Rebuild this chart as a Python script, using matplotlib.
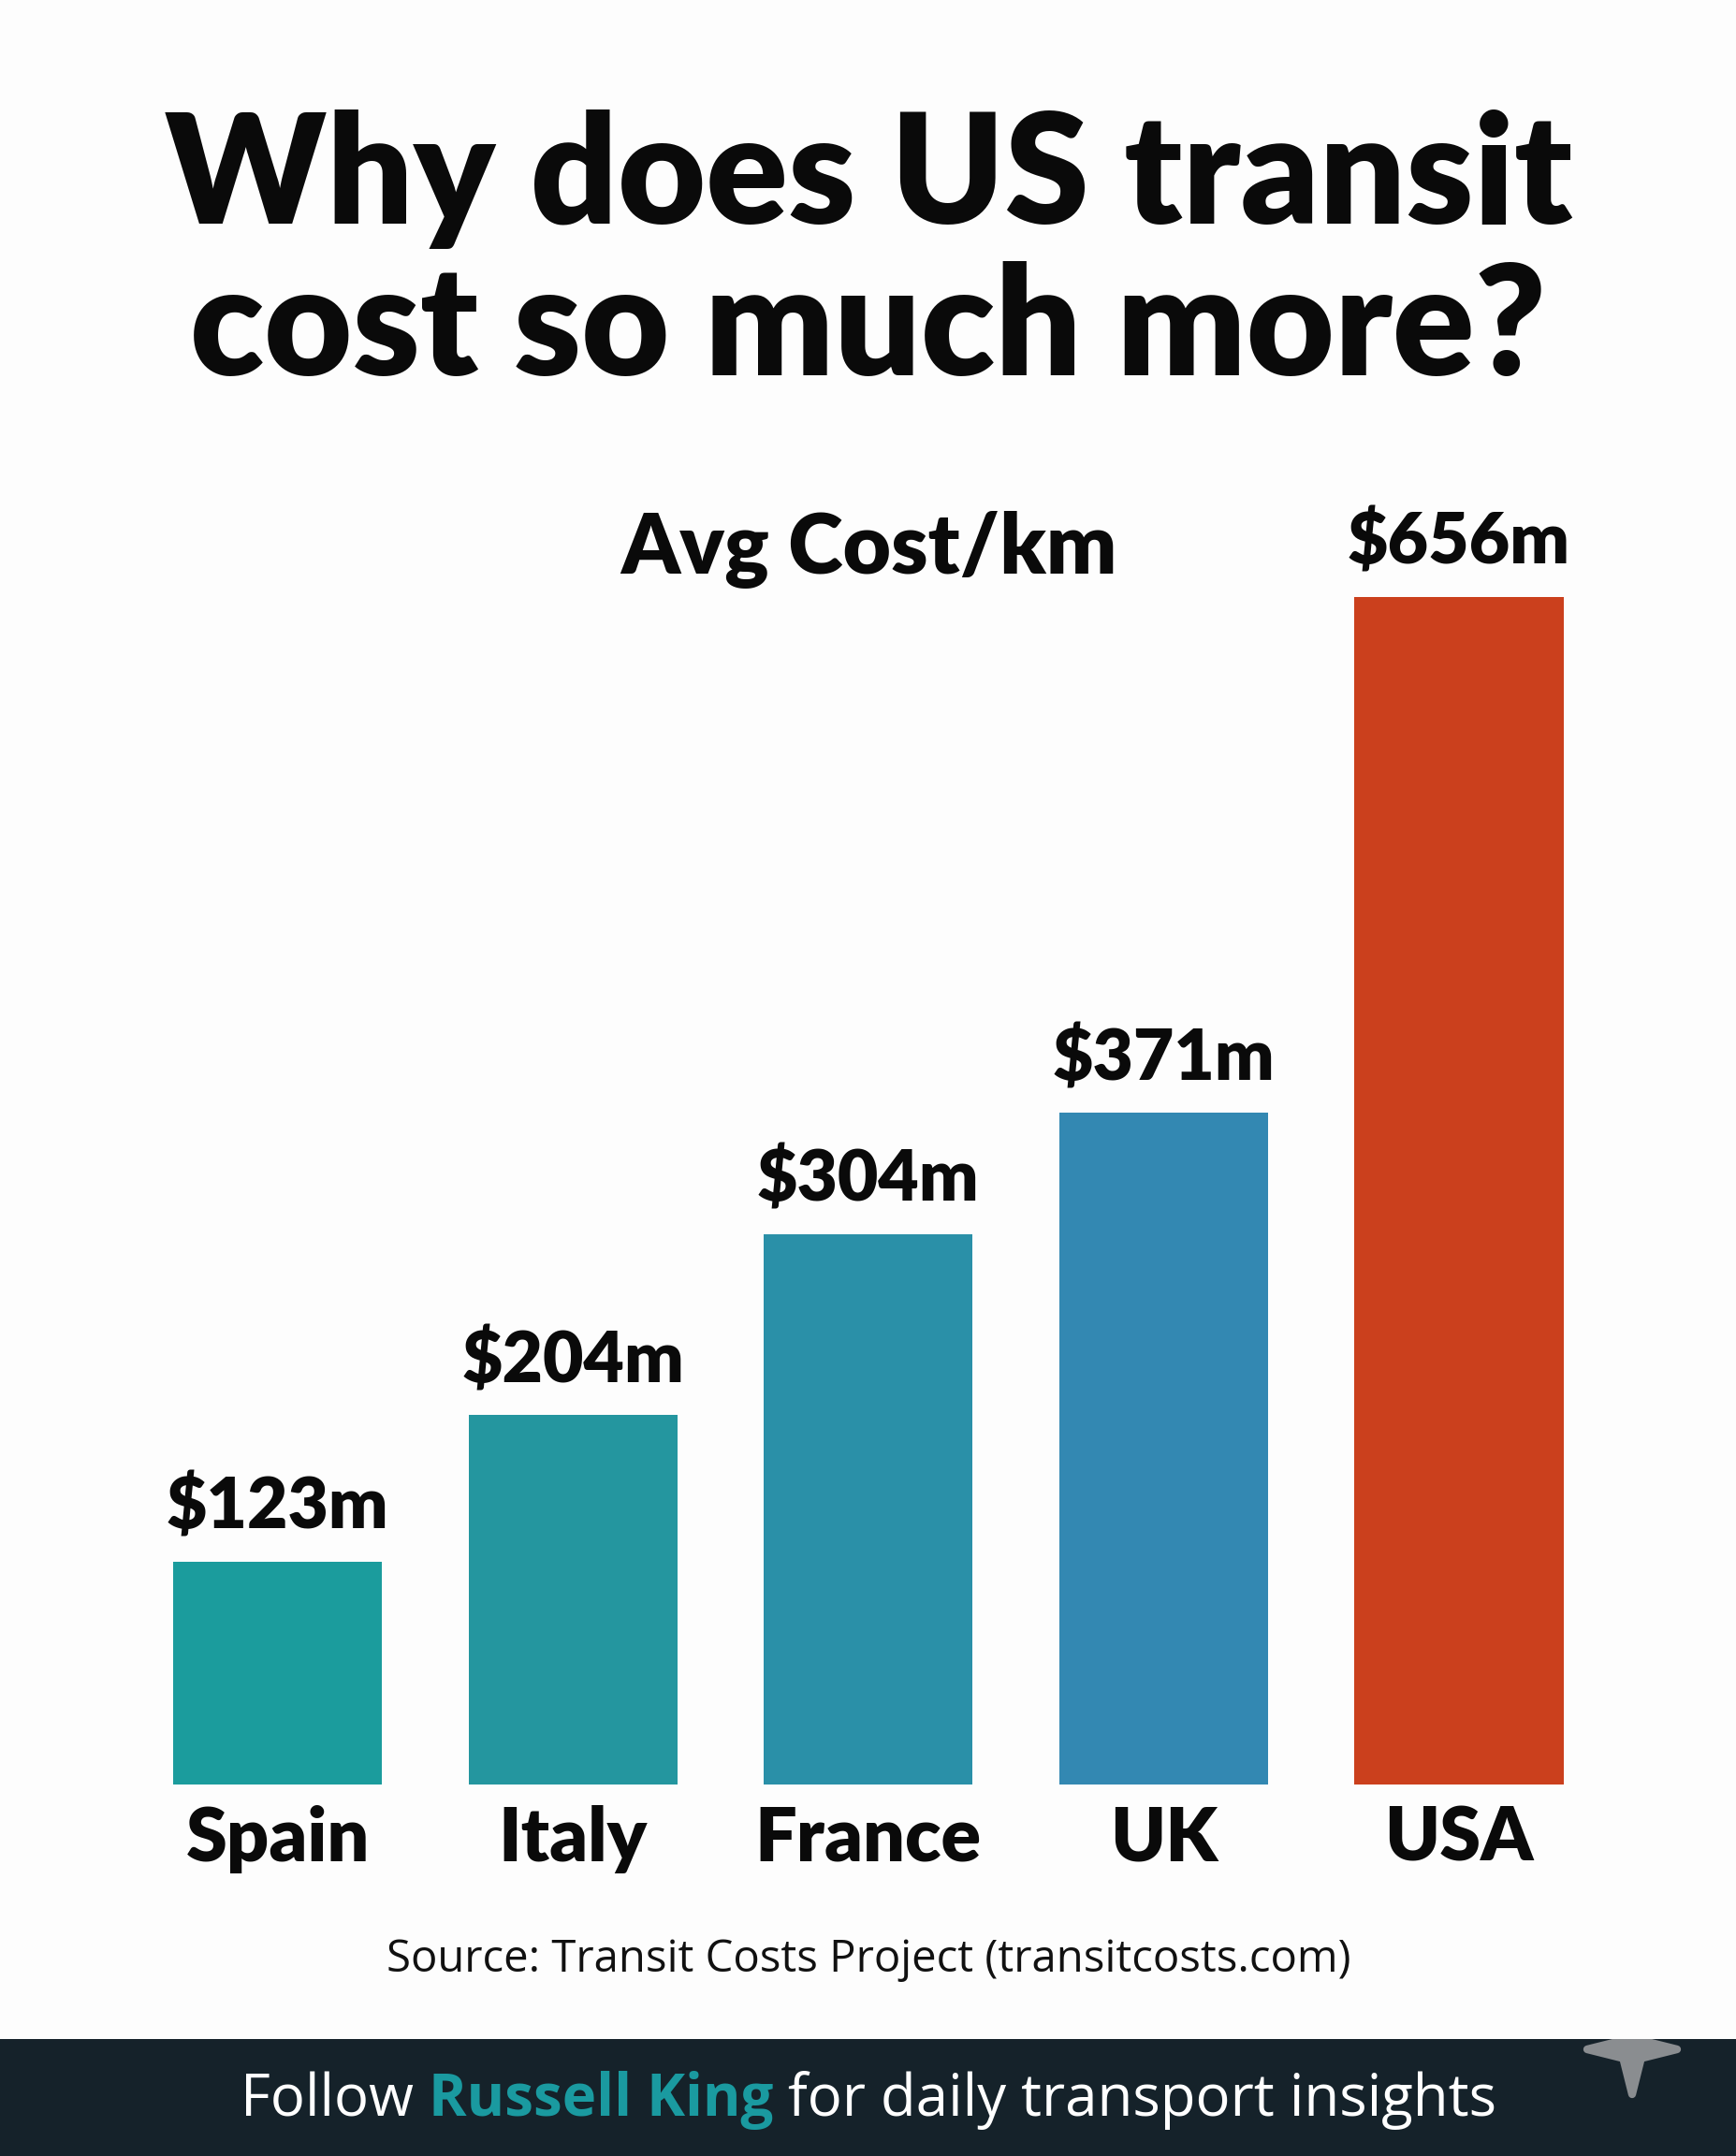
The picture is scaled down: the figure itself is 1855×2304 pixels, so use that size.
import matplotlib
matplotlib.use("Agg")
import matplotlib.pyplot as plt
from matplotlib.patches import Rectangle, Polygon

countries = ["Spain", "Italy", "France", "UK", "USA"]
costs = [123, 204, 304, 371, 656]
labels = ["$123m", "$204m", "$304m", "$371m", "$656m"]
colors = ["#1b9c9d", "#24969f", "#2a90a8", "#3388b2", "#cb401d"]

W, H = 1856, 2304
fig = plt.figure(figsize=(W / 100, H / 100), dpi=100)
fig.patch.set_facecolor("#fdfdfd")

TITLE_FONT = "Lato"
BODY_FONT = "Open Sans"

# axes placement in pixels
px_per_unit = 1269 / 656
bar_base = 1907
left_px, right_px = 138.75, 1716.75
ymax = 700
ax_h = ymax * px_per_unit
ax = fig.add_axes([left_px / W, (H - bar_base) / H, (right_px - left_px) / W, ax_h / H])
ax.set_facecolor("none")
ax.bar(range(len(countries)), costs, width=0.707, color=colors)
ax.set_xlim(-0.5, len(countries) - 0.5)
ax.set_ylim(0, ymax)
ax.axis("off")

for i, (v, lab) in enumerate(zip(costs, labels)):
    ax.annotate(lab, (i, v), xytext=(0, 16), textcoords="offset points",
                ha="center", va="bottom", fontsize=54, fontweight="heavy",
                family=TITLE_FONT, color="#0a0a0a")
    ax.annotate(countries[i], (i, 0), xytext=(0, -42), textcoords="offset points",
                ha="center", va="center", fontsize=57, fontweight="heavy",
                family=TITLE_FONT, color="#0a0a0a")

def fy(px):
    return 1 - px / H

fig.text(0.5, fy(191), "Why does US transit", ha="center", va="center",
         fontsize=117, fontweight="heavy", family=TITLE_FONT, color="#0a0a0a")
fig.text(0.5, fy(353), "cost so much more?", ha="center", va="center",
         fontsize=117, fontweight="heavy", family=TITLE_FONT, color="#0a0a0a")
fig.text(0.5, fy(588), "Avg Cost/km", ha="center", va="center",
         fontsize=64, fontweight="heavy", family=TITLE_FONT, color="#0a0a0a")
fig.text(0.5, fy(2094), "Source: Transit Costs Project (transitcosts.com)",
         ha="center", va="center", fontsize=34, family=BODY_FONT, color="#111111")

# footer band
band_top = 2179
band = Rectangle((0, 0), 1, (H - band_top) / H, transform=fig.transFigure,
                 facecolor="#15222a", edgecolor="none", zorder=0)
fig.patches.append(band)

# footer text in three pieces
parts = [("Follow ", "white", "normal"), ("Russell King", "#1a9aa0", "bold"),
         (" for daily transport insights", "white", "normal")]
fig.canvas.draw()
renderer = fig.canvas.get_renderer()
texts = []
for s, c, w in parts:
    t = fig.text(0, fy(2245), s, ha="left", va="center", fontsize=44.5,
                 fontweight=w, family=BODY_FONT, color=c)
    texts.append(t)
widths = [t.get_window_extent(renderer).width for t in texts]
total = sum(widths)
x = (W - total) / 2
for t, wdt in zip(texts, widths):
    t.set_x(x / W)
    x += wdt

# sparkle watermark (four-point star), clipped to the footer band
cx, cy, r = 1744, 2190, 48
shape = [(0, 1), (0.2, 0.2), (1, 0), (0.2, -0.2), (0, -1), (-0.2, -0.2), (-1, 0), (-0.2, 0.2)]
pts = [((cx + dx * r) / W, fy(cy - dy * r)) for dx, dy in shape]
star = Polygon(pts, closed=True, transform=fig.transFigure, facecolor="#8a8d90",
               edgecolor="#8a8d90", linewidth=6, joinstyle="round", zorder=1)
fig.patches.append(star)
star.set_clip_path(band)

fig.savefig("out.png", dpi=100, facecolor=fig.get_facecolor())
